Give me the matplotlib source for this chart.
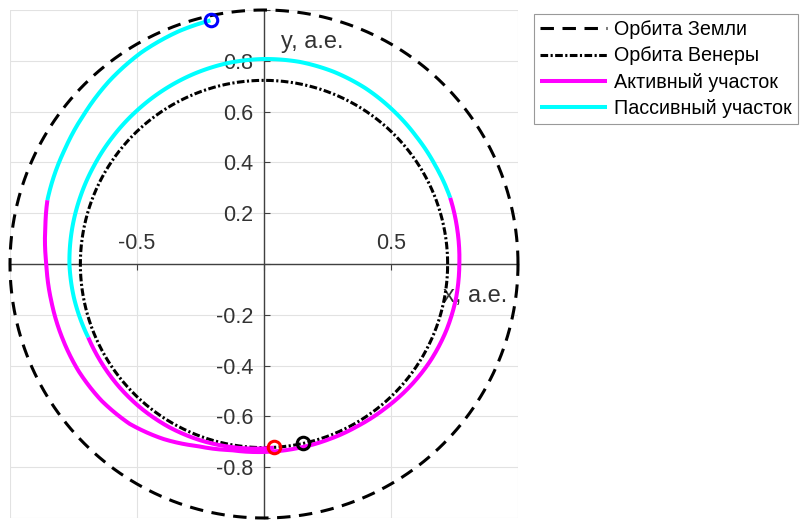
import numpy as np
import matplotlib
matplotlib.use("Agg")
import matplotlib.pyplot as plt

plt.rcParams['font.family'] = ['Liberation Sans', 'DejaVu Sans']

# ---- data ----
earth_r = 1.0
venus_r = 0.723

# trajectory, heliocentric polar readings: angle (deg), radius (a.e.)
pass1_theta = [102.4, 110, 120, 130, 140, 150, 163.6]
pass1_r     = [0.982, 0.976, 0.963, 0.944, 0.922, 0.905, 0.889]

act1_theta = [163.6, 170, 180, 190, 200, 210, 220, 230, 240, 250, 260, 270,
              280, 290, 300, 310, 320, 330, 340, 350, 360, 370, 379.6]
act1_r     = [0.889, 0.874, 0.857, 0.850, 0.846, 0.843, 0.836, 0.822, 0.795,
              0.763, 0.744, 0.740, 0.737, 0.736, 0.737, 0.742, 0.750, 0.758,
              0.764, 0.768, 0.769, 0.773, 0.778]

pass2_theta = [19.6, 30, 40, 50, 60, 70, 80, 90, 100, 110, 120, 130, 140,
               150, 160, 170, 180, 190, 202.7]
pass2_r     = [0.778, 0.778, 0.782, 0.790, 0.799, 0.805, 0.808, 0.807, 0.804,
               0.798, 0.791, 0.784, 0.778, 0.773, 0.770, 0.768, 0.766, 0.760,
               0.750]

act2_theta = [202.7, 210, 220, 230, 240, 250, 260, 270, 273.1]
act2_r     = [0.750, 0.749, 0.748, 0.746, 0.743, 0.738, 0.732, 0.726, 0.724]

start_pt = (-0.210, 0.959)   # blue
end_pt = (0.039, -0.722)     # red
venus_pt = (0.155, -0.706)   # black

xtick_vals = [-1, -0.5, 0, 0.5, 1]
xtick_labels = ['', '-0.5', '', '0.5', '']
ytick_vals = [-1, -0.8, -0.6, -0.4, -0.2, 0, 0.2, 0.4, 0.6, 0.8, 1]
ytick_labels = ['', '-0.8', '-0.6', '-0.4', '-0.2', '', '0.2', '0.4', '0.6', '0.8', '']

labels = ['Орбита Земли', 'Орбита Венеры', 'Активный участок', 'Пассивный участок']

rect = [10 / 800, 2 / 520, 508 / 800, 508 / 520]

fig = plt.figure(figsize=(8, 5.2), dpi=100)
ax = fig.add_axes(rect)
ax.set_xlim(-1, 1)
ax.set_ylim(-1, 1)
ax.set_aspect('equal', adjustable='box')
ax.set_axisbelow(True)

# axes through origin
for s in ['right', 'bottom']:
    ax.spines[s].set_visible(False)
ax.spines['top'].set_position(('data', 0))
ax.spines['left'].set_position(('data', 0))
for s in ['top', 'left']:
    ax.spines[s].set_color('#404040')
    ax.spines[s].set_linewidth(1.0)
    ax.spines[s].set_zorder(1)
ax.xaxis.tick_top()
ax.yaxis.tick_left()
ax.set_xticks(xtick_vals)
ax.set_xticklabels(xtick_labels)
ax.set_yticks(ytick_vals)
ax.set_yticklabels(ytick_labels)
ax.tick_params(direction='in', length=4, width=0.8, colors='#404040',
               labelcolor='#333333', labelsize=15.5)
ax.tick_params(axis='x', pad=7)
ax.tick_params(axis='y', pad=7.5)
ax.grid(True, color='#e2e2e2', linewidth=0.8)

t = np.linspace(0, 2 * np.pi, 721)
h_earth, = ax.plot(earth_r * np.cos(t), earth_r * np.sin(t), color='black', lw=2.2,
                   dashes=(4.4, 2.8), clip_on=False, zorder=2)
h_venus, = ax.plot(venus_r * np.cos(t), venus_r * np.sin(t), color='black', lw=2.2,
                   dashes=(2.5, 0.8, 0.7, 0.8), clip_on=False, zorder=2)

ax.text(0.065, 0.874, 'y, а.е.', fontsize=17, color='#333333', ha='left', va='center', zorder=1)
ax.text(0.705, -0.126, 'x, а.е.', fontsize=17, color='#333333', ha='left', va='center', zorder=1)

# trajectory drawn on a transparent polar overlay sharing the same square box
pax = fig.add_axes(rect, projection='polar')
pax.set_rlim(0, 1)
pax.axis('off')
pax.patch.set_alpha(0)

traj_kw = dict(lw=2.9, solid_capstyle='butt', clip_on=False, zorder=3)
traj_lines = []
h_pass, = pax.plot(np.deg2rad(pass1_theta), pass1_r, color='#00FFFF', **traj_kw)
h_act, = pax.plot(np.deg2rad(act1_theta), act1_r, color='#FF00FF', **traj_kw)
l3, = pax.plot(np.deg2rad(pass2_theta), pass2_r, color='#00FFFF', **traj_kw)
l4, = pax.plot(np.deg2rad(act2_theta), act2_r, color='#FF00FF', **traj_kw)
# let the polar transform draw each segment as a smooth spiral arc
for ln in (h_pass, h_act, l3, l4):
    ln.get_path()._interpolation_steps = 40

mk = dict(marker='o', ms=9, mfc='none', mew=2.2, ls='none', zorder=5,
          clip_on=False, transform=ax.transData)
pax.plot([start_pt[0]], [start_pt[1]], mec='#0000FF', **mk)
pax.plot([end_pt[0]], [end_pt[1]], mec='#FF0000', **mk)
pax.plot([venus_pt[0]], [venus_pt[1]], mec='black', **mk)

leg = ax.legend([h_earth, h_venus, h_act, h_pass], labels,
                loc='upper left', bbox_to_anchor=(534 / 800, 1 - 14 / 520),
                bbox_transform=fig.transFigure, fontsize=14.2, frameon=True,
                fancybox=False, edgecolor='#999999', framealpha=1,
                handlelength=3.4, handletextpad=0.35, labelspacing=0.38,
                borderpad=0.3, borderaxespad=0)
leg.get_frame().set_linewidth(0.8)

fig.savefig('out.png', dpi=100)
